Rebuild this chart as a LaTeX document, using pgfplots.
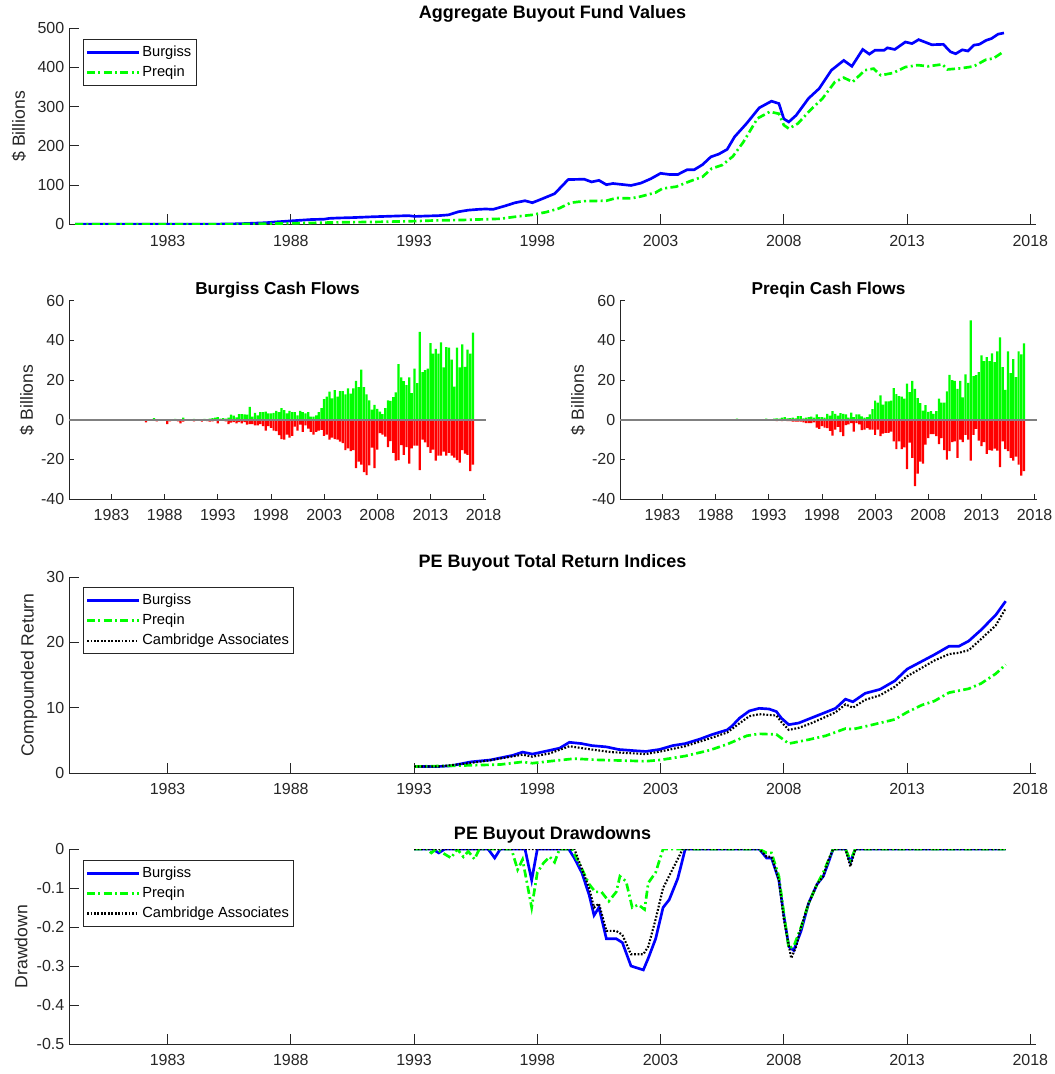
\documentclass[border=0pt]{standalone}
\usepackage{fontspec}
\setmainfont{Liberation Sans}
\usepackage{pgfplots}
\pgfplotsset{compat=1.18}
\definecolor{axgray}{RGB}{38,38,38}
\definecolor{mblue}{RGB}{0,0,255}
\definecolor{mgreen}{RGB}{0,255,0}
\definecolor{mred}{RGB}{255,0,0}
\definecolor{zgray}{RGB}{128,128,128}
\pgfplotsset{
 mstyle/.style={
  scale only axis,
  axis x line=bottom, axis y line=left,
  axis line style={-, draw=axgray, line width=0.6pt},
  tick align=inside,
  major tick length=7.5pt,
  tick style={draw=axgray, line width=0.6pt},
  ticklabel style={font=\fontsize{12}{14}\selectfont, text=axgray},
  xticklabel style={yshift=-4.5pt},
  /pgf/number format/assume math mode=true,
  xmin=1979, xmax=2018.23,
  xtick={1983,1988,1993,1998,2003,2008,2013,2018},
  xticklabels={1983,1988,1993,1998,2003,2008,2013,2018},
  title style={font=\fontsize{13.5}{16}\selectfont\bfseries, anchor=base, at={(0.5,1)}, yshift=1.25pt},
  label style={font=\fontsize{13.2}{15}\selectfont, text=axgray},
  legend cell align=left,
  legend style={draw=axgray, line width=0.5pt, fill=white, font=\fontsize{11}{13}\selectfont, text=black,
    inner xsep=2pt, inner ysep=2.2pt, row sep=0pt,
    nodes={inner sep=1.6pt, text height=8.9pt, text depth=3pt}},
  legend image code/.code={\draw[##1] (0pt,0pt) -- (38.8pt,0pt);},
 },
 bl/.style={draw=mblue, line width=2pt},
 gr/.style={draw=mgreen, line width=2pt, dash pattern=on 6pt off 2.5pt on 1.5pt off 2.5pt},
 bk/.style={draw=black, line width=1.6pt, dash pattern=on 1.3pt off 1.3pt},
 pbar/.style={ybar, bar width=0.21, bar shift=0pt, fill=mgreen, draw=none},
 nbar/.style={ybar, bar width=0.21, bar shift=0pt, fill=mred, draw=none},
}
\begin{document}
\begin{tikzpicture}
\useasboundingbox (0pt,0pt) rectangle (790.5pt,-805.5pt);
% ---------------- Panel 1
\begin{axis}[mstyle, at={(51.75pt,-168.2pt)}, anchor=south west,
  width=725.25pt, height=147pt,
  ymin=0, ymax=500, ytick={0,100,200,300,400,500},
  yticklabels={0,100,200,300,400,500},
  title={Aggregate Buyout Fund Values},
  ylabel={\$ Billions},
  ylabel style={at={(axis description cs:-0.0517,0.5)}, anchor=center},
  legend style={at={(axis description cs:0.0143,0.944)}, anchor=north west}]
\addplot[bl] coordinates {(1979.25,0) (1980,0) (1981,0) (1982,0) (1983,0) (1984,0) (1985,0.3) (1985.66,1) (1986,1.5) (1986.6,3) (1987,4) (1987.4,6) (1988.1,9) (1988.8,12) (1989.35,13) (1989.56,15) (1989.9,16) (1990.5,17) (1991.27,19) (1992,20.5) (1992.77,22) (1993.04,20) (1993.45,21) (1994,22) (1994.4,24) (1994.8,32) (1995.2,36) (1995.6,38) (1995.9,39) (1996.2,38) (1996.7,47) (1997.1,55) (1997.5,60) (1997.8,55) (1998.2,65) (1998.7,78) (1998.9,91) (1999.25,114) (1999.9,115) (2000.2,108) (2000.5,112) (2000.8,101) (2001.07,104) (2001.8,99) (2002.2,105) (2002.6,116) (2003.0,130) (2003.36,127) (2003.7,127) (2004.07,139) (2004.36,139) (2004.7,152) (2005.04,172) (2005.36,179) (2005.7,191) (2006.0,223) (2006.5,258) (2007.0,297) (2007.5,314) (2007.8,308) (2008.0,269) (2008.2,261) (2008.5,278) (2009.0,321) (2009.43,346) (2009.93,393) (2010.43,418) (2010.76,403) (2011.2,446) (2011.47,434) (2011.7,444) (2012.07,444) (2012.2,450) (2012.5,446) (2012.93,465) (2013.2,461) (2013.47,471) (2014.0,458) (2014.47,459) (2014.76,440) (2014.97,435) (2015.24,445) (2015.47,442) (2015.71,457) (2015.93,459) (2016.2,469) (2016.43,474) (2016.69,485) (2016.93,488)};
\addlegendentry{Burgiss}
\addplot[gr] coordinates {(1979.25,0) (1980,0) (1981,0) (1982,0) (1983,0) (1984,0) (1985,0) (1986,0.5) (1987.5,2) (1988.5,3) (1990,5) (1991.5,6) (1993,8) (1994,10) (1995,11) (1996,13) (1996.5,14) (1997.2,20) (1997.5,22) (1997.8,24) (1998.36,31) (1998.86,40) (1999.36,55) (1999.9,59) (2000.8,60) (2001.2,67) (2001.8,66) (2002.2,71) (2002.8,81) (2003.07,91) (2003.64,96) (2004.2,110) (2004.7,121) (2005.07,142) (2005.5,151) (2005.93,173) (2006.36,210) (2006.93,270) (2007.43,287) (2007.8,282) (2008.0,253) (2008.2,244) (2008.57,257) (2009.07,291) (2009.57,321) (2010.07,363) (2010.43,374) (2010.79,363) (2011.29,393) (2011.64,397) (2011.93,380) (2012.43,386) (2012.93,401) (2013.43,406) (2013.86,403) (2014.43,408) (2014.64,395) (2015.21,398) (2015.71,403) (2016.2,420) (2016.5,423) (2016.93,441)};
\addlegendentry{Preqin}
\end{axis}
% ---------------- Panel 2L
\begin{axis}[mstyle, at={(51.75pt,-374.25pt)}, anchor=south west,
  width=312.75pt, height=148.7pt, major tick length=4pt,
  ymin=-40, ymax=60, ytick={-40,-20,0,20,40,60},
  yticklabels={-40,-20,0,20,40,60},
  title={Burgiss Cash Flows}, title style={yshift=-2.25pt, font=\fontsize{12.9}{15}\selectfont\bfseries},
  ylabel={\$ Billions},
  ylabel style={at={(axis description cs:-0.1007,0.5)}, anchor=center}]
\addplot[pbar] coordinates {(1985.5,0.2) (1986,0.3) (1986.5,0.2) (1987,0.8) (1987.5,0.3) (1988,0.3) (1988.5,0.2) (1989,0.4) (1989.5,0.3) (1989.75,1.0) (1990.25,0.3) (1990.75,0.4) (1991.25,0.3) (1991.75,0.4) (1992.25,0.5) (1992.5,0.8) (1992.75,1.0) (1993,1.3) (1993.25,0.5)
(1993.5,0.8) (1993.75,0.6) (1994,1.0) (1994.25,2.5) (1994.5,2.0) (1994.75,1.2) (1995,2.8) (1995.25,2.8) (1995.5,2.7) (1995.75,2.5) (1996,6.5) (1996.25,1.5) (1996.5,3.5) (1996.75,2.2) (1997,3.8) (1997.25,3.8) (1997.5,4.1) (1997.75,3.2) (1998,3.2) (1998.25,3.5) (1998.5,4.5) (1998.75,3.8) (1999,5.8) (1999.25,4.8) (1999.5,3.2) (1999.75,4.5) (2000,3.8) (2000.25,3.8) (2000.5,2.2) (2000.75,4.5) (2001,3.8) (2001.25,3.2) (2001.5,3.8) (2001.75,1.5) (2002,1.5) (2002.25,2.2) (2002.5,3.8) (2002.75,5.8) (2003,10.4) (2003.25,11.6) (2003.5,14.1) (2003.75,10.8) (2004,14.9) (2004.25,11.6) (2004.5,14.4) (2004.75,14.4) (2005,12.8) (2005.25,15.8) (2005.5,13.1) (2005.75,15.8) (2006,19.6) (2006.25,16.4) (2006.5,25.2) (2006.75,16.4) (2007,12.8) (2007.25,9.8) (2007.5,5.1) (2007.75,7.5) (2008,5.5) (2008.25,4.1) (2008.5,2.8) (2008.75,5.8) (2009,9.8) (2009.25,9.5) (2009.5,11.4) (2009.75,13.8) (2010,28.0) (2010.25,21.4) (2010.5,19.4) (2010.75,17.4) (2011,21.4) (2011.25,13.4) (2011.5,25.7) (2011.75,18.4) (2012,44.3) (2012.25,24.0) (2012.5,25.0) (2012.75,25.7) (2013,38.6) (2013.25,33.3) (2013.5,35.7) (2013.75,33.3) (2014,39.0) (2014.25,26.4) (2014.5,36.6) (2014.75,36.3) (2015,30.3) (2015.25,16.7) (2015.5,36.3) (2015.75,26.4) (2016,38.0) (2016.25,26.7) (2016.5,35.3) (2016.75,33.3) (2017,43.9)};
\addplot[nbar] coordinates {(1985.5,-0.3) (1985.75,-0.5) (1986,-0.3) (1986.25,-1.3) (1986.5,-0.4) (1986.75,-0.6) (1987,-0.3) (1987.25,-0.8) (1987.5,-0.5) (1987.75,-0.3) (1988,-0.4) (1988.25,-2.2) (1988.5,-0.8) (1988.75,-0.4) (1989,-0.3) (1989.25,-0.8) (1989.5,-1.8) (1989.75,-1.0) (1990,-0.4) (1990.25,-0.6) (1990.5,-0.3) (1990.75,-0.8) (1991,-0.4) (1991.25,-0.6) (1991.5,-1.0) (1991.75,-0.5) (1992,-0.7) (1992.25,-1.0) (1992.5,-0.8) (1992.75,-0.5) (1993,-1.8) (1993.25,-0.6)
(1993.5,-0.5) (1993.75,-0.8) (1994,-2.2) (1994.25,-1.5) (1994.5,-1.2) (1994.75,-1.8) (1995,-1.2) (1995.25,-1.8) (1995.5,-1.2) (1995.75,-2.5) (1996,-2.2) (1996.25,-2.2) (1996.5,-2.8) (1996.75,-2.8) (1997,-2.2) (1997.25,-3.2) (1997.5,-5.5) (1997.75,-3.2) (1998,-4.1) (1998.25,-5.5) (1998.5,-5.8) (1998.75,-7.8) (1999,-9.8) (1999.25,-10.1) (1999.5,-7.5) (1999.75,-9.1) (2000,-8.1) (2000.25,-3.5) (2000.5,-5.5) (2000.75,-2.5) (2001,-6.1) (2001.25,-2.8) (2001.5,-4.5) (2001.75,-6.1) (2002,-7.5) (2002.25,-6.1) (2002.5,-5.5) (2002.75,-5.1) (2003,-8.1) (2003.25,-7.5) (2003.5,-10.1) (2003.75,-9.1) (2004,-9.8) (2004.25,-10.1) (2004.5,-11.1) (2004.75,-11.8) (2005,-15.4) (2005.25,-14.4) (2005.5,-15.8) (2005.75,-15.4) (2006,-24.4) (2006.25,-21.1) (2006.5,-22.7) (2006.75,-26.4) (2007,-28.0) (2007.25,-23.1) (2007.5,-14.1) (2007.75,-24.4) (2008,-15.1) (2008.25,-6.8) (2008.5,-7.5) (2008.75,-8.5) (2009,-13.8) (2009.25,-10.8) (2009.5,-16.7) (2009.75,-20.7) (2010,-20.4) (2010.25,-12.8) (2010.5,-17.7) (2010.75,-13.8) (2011,-22.1) (2011.25,-14.4) (2011.5,-13.1) (2011.75,-13.1) (2012,-25.4) (2012.25,-10.1) (2012.5,-11.4) (2012.75,-13.8) (2013,-16.7) (2013.25,-15.1) (2013.5,-20.7) (2013.75,-18.1) (2014,-18.1) (2014.25,-16.1) (2014.5,-18.1) (2014.75,-16.7) (2015,-18.1) (2015.25,-19.1) (2015.5,-20.4) (2015.75,-21.7) (2016,-15.4) (2016.25,-17.1) (2016.5,-17.7) (2016.75,-26.0) (2017,-22.7)};
\addplot[zgray, line width=1.3pt] coordinates {(1979,0) (2018.23,0)};
\end{axis}
% ---------------- Panel 2R
\begin{axis}[mstyle, at={(465pt,-374.25pt)}, anchor=south west,
  width=312.75pt, height=148.7pt, major tick length=4pt,
  ymin=-40, ymax=60, ytick={-40,-20,0,20,40,60},
  yticklabels={-40,-20,0,20,40,60},
  title={Preqin Cash Flows}, title style={yshift=-2.25pt, font=\fontsize{12.9}{15}\selectfont\bfseries},
  ylabel={\$ Billions},
  ylabel style={at={(axis description cs:-0.1007,0.5)}, anchor=center}]
\addplot[pbar] coordinates {(1990,0.6) (1991.5,0.2) (1992.75,0.5) (1993.25,0.3)
(1993.5,0.5) (1993.75,0.7) (1994,0.5) (1994.25,1.0) (1994.5,1.3) (1994.75,0.7) (1995,0.8) (1995.25,1.0) (1995.5,0.7) (1995.75,1.8) (1996,1.8) (1996.25,0.7) (1996.5,1.0) (1996.75,1.3) (1997,1.5) (1997.25,1.0) (1997.5,2.7) (1997.75,1.3) (1998,1.3) (1998.25,1.0) (1998.5,3.0) (1998.75,2.0) (1999,4.3) (1999.25,3.0) (1999.5,2.0) (1999.75,3.3) (2000,3.0) (2000.25,2.7) (2000.5,1.0) (2000.75,3.6) (2001,1.3) (2001.25,2.7) (2001.5,2.7) (2001.75,1.7) (2002,1.0) (2002.25,1.3) (2002.5,2.7) (2002.75,5.3) (2003,9.6) (2003.25,8.6) (2003.5,12.3) (2003.75,7.6) (2004,9.3) (2004.25,9.3) (2004.5,9.6) (2004.75,15.9) (2005,12.9) (2005.25,11.9) (2005.5,11.6) (2005.75,10.6) (2006,18.2) (2006.25,13.9) (2006.5,19.6) (2006.75,15.6) (2007,10.9) (2007.25,8.3) (2007.5,4.6) (2007.75,7.3) (2008,4.0) (2008.25,4.3) (2008.5,3.0) (2008.75,4.3) (2009,10.6) (2009.25,8.6) (2009.5,8.6) (2009.75,14.3) (2010,22.6) (2010.25,19.9) (2010.5,19.6) (2010.75,15.6) (2011,19.6) (2011.25,11.3) (2011.5,22.9) (2011.75,18.6) (2012,50.1) (2012.25,22) (2012.5,22.5) (2012.75,24) (2013,32.5) (2013.25,29.5) (2013.5,31.5) (2013.75,29.5) (2014,33.5) (2014.25,29) (2014.5,34.5) (2014.75,41.5) (2015,26.5) (2015.25,15) (2015.5,34.5) (2015.75,23.5) (2016,30.5) (2016.25,21.5) (2016.5,34.5) (2016.75,33) (2017,38.5)};
\addplot[nbar] coordinates {(1980,-0.2) (1981,-0.2) (1982,-0.3) (1983,-0.2) (1984,-0.3) (1985,-0.3) (1985.5,-0.4) (1986,-0.3) (1986.5,-0.6) (1987,-0.3) (1987.5,-0.4) (1988,-0.4) (1988.5,-0.3) (1989,-0.4) (1989.5,-0.3) (1990,-0.5) (1990.5,-0.3) (1991,-0.4) (1991.5,-0.3) (1992,-0.4) (1992.5,-0.3) (1993,-0.4) (1993.25,-0.3)
(1993.5,-0.3) (1993.75,-0.7) (1994,-0.3) (1994.25,-0.7) (1994.5,-0.3) (1994.75,-0.7) (1995,-0.7) (1995.25,-1.0) (1995.5,-1.0) (1995.75,-1.0) (1996,-1.0) (1996.25,-1.3) (1996.5,-1.7) (1996.75,-1.7) (1997,-1.7) (1997.25,-1.3) (1997.5,-4.0) (1997.75,-4.6) (1998,-3.3) (1998.25,-4.0) (1998.5,-4.3) (1998.75,-5.6) (1999,-8.0) (1999.25,-5.0) (1999.5,-3.6) (1999.75,-6.3) (2000,-8.3) (2000.25,-2.7) (2000.5,-2.3) (2000.75,-1.7) (2001,-6.0) (2001.25,-1.7) (2001.5,-2.3) (2001.75,-5.3) (2002,-5.0) (2002.25,-4.3) (2002.5,-5.0) (2002.75,-5.0) (2003,-7.6) (2003.25,-5.0) (2003.5,-8.3) (2003.75,-7.0) (2004,-6.6) (2004.25,-6.6) (2004.5,-6.0) (2004.75,-10.9) (2005,-14.9) (2005.25,-10.9) (2005.5,-14.9) (2005.75,-13.9) (2006,-24.9) (2006.25,-11.6) (2006.5,-19.2) (2006.75,-33.5) (2007,-27.2) (2007.25,-21.2) (2007.5,-22.2) (2007.75,-12.6) (2008,-9.3) (2008.25,-7.3) (2008.5,-7.3) (2008.75,-8.3) (2009,-12.3) (2009.25,-9.3) (2009.5,-15.3) (2009.75,-20.2) (2010,-15.9) (2010.25,-11.3) (2010.5,-10.9) (2010.75,-19.2) (2011,-10.0) (2011.25,-11.3) (2011.5,-7.6) (2011.75,-10.0) (2012,-20.6) (2012.25,-7.6) (2012.5,-4.6) (2012.75,-10.6) (2013,-13.3) (2013.25,-11.3) (2013.5,-17.2) (2013.75,-15.3) (2014,-15.6) (2014.25,-14.6) (2014.5,-15.6) (2014.75,-23.9) (2015,-10.9) (2015.25,-14.9) (2015.5,-15.9) (2015.75,-19.2) (2016,-20.6) (2016.25,-18.6) (2016.5,-22.6) (2016.75,-28.2) (2017,-25.9)};
\addplot[zgray, line width=1.3pt] coordinates {(1979,0) (2018.23,0)};
\end{axis}
% ---------------- Panel 3
\begin{axis}[mstyle, at={(51.75pt,-579.75pt)}, anchor=south west,
  width=725.25pt, height=147pt,
  ymin=0, ymax=30, ytick={0,10,20,30}, yticklabels={0,10,20,30},
  title={PE Buyout Total Return Indices},
  ylabel={Compounded Return},
  ylabel style={at={(axis description cs:-0.0414,0.5)}, anchor=center},
  legend style={at={(axis description cs:0.0142,0.949)}, anchor=north west}]
\addplot[bl] coordinates {(1993,1.0) (1994,1.0) (1994.5,1.1) (1995.3,1.7) (1996.1,2.0) (1997,2.7) (1997.4,3.2) (1997.8,2.9) (1998.3,3.3) (1998.9,3.8) (1999.3,4.7) (1999.8,4.5) (2000.2,4.2) (2000.8,4.0) (2001.3,3.6) (2002,3.4) (2002.4,3.3) (2002.95,3.6) (2003.5,4.2) (2004,4.5) (2004.6,5.2) (2005.1,5.9) (2005.7,6.6) (2005.9,7.2) (2006.2,8.4) (2006.6,9.5) (2007,9.9) (2007.4,9.8) (2007.7,9.4) (2007.9,8.4) (2008.2,7.4) (2008.6,7.65) (2009.1,8.4) (2009.7,9.3) (2010.1,9.9) (2010.5,11.3) (2010.8,10.9) (2011.3,12.2) (2011.9,12.8) (2012.5,14.1) (2013,15.9) (2013.6,17.1) (2014.1,18.1) (2014.7,19.4) (2015.1,19.4) (2015.5,20.2) (2016,21.9) (2016.6,24.2) (2017,26.3)};
\addlegendentry{Burgiss}
\addplot[gr] coordinates {(1993,1.0) (1994.5,1.1) (1995.5,1.2) (1996.5,1.3) (1997.4,1.7) (1997.8,1.5) (1998.5,1.8) (1999.5,2.2) (2000.5,2.0) (2001.5,1.9) (2002.4,1.8) (2003,2.0) (2004,2.6) (2005,3.5) (2005.7,4.4) (2006.5,5.7) (2007,6.0) (2007.7,5.9) (2008.2,4.5) (2009,5.1) (2009.7,5.7) (2010.5,6.8) (2010.8,6.7) (2011.5,7.3) (2012.5,8.2) (2013,9.3) (2013.6,10.4) (2014.1,11.0) (2014.7,12.3) (2015.5,12.9) (2016,13.7) (2016.6,15.2) (2017,16.6)};
\addlegendentry{Preqin}
\addplot[bk] coordinates {(1993,1.0) (1994,1.0) (1995,1.4) (1996,1.9) (1997.4,2.8) (1997.8,2.5) (1998.5,3.0) (1999.3,4.1) (2000,3.7) (2001,3.2) (2002.4,2.9) (2003,3.3) (2004,4.1) (2005,5.3) (2005.7,6.2) (2006.2,7.6) (2006.6,8.7) (2007,9.0) (2007.7,8.8) (2007.9,7.8) (2008.2,6.6) (2008.6,6.9) (2009.1,7.6) (2009.7,8.6) (2010.1,9.3) (2010.5,10.5) (2010.8,10.0) (2011.3,11.2) (2011.9,11.9) (2012.5,13.2) (2013,14.8) (2013.6,16.1) (2014.1,17.2) (2014.7,18.2) (2015.1,18.4) (2015.5,18.8) (2016,20.5) (2016.6,22.6) (2017,25.2)};
\addlegendentry{Cambridge Associates}
\end{axis}
% ---------------- Panel 4
\begin{axis}[mstyle, at={(51.75pt,-783pt)}, anchor=south west,
  width=725.25pt, height=146.25pt,
  ymin=-0.5, ymax=0, ytick={-0.5,-0.4,-0.3,-0.2,-0.1,0},
  yticklabels={-0.5,-0.4,-0.3,-0.2,-0.1,0},
  title={PE Buyout Drawdowns},
  ylabel={Drawdown},
  ylabel style={at={(axis description cs:-0.0496,0.5)}, anchor=center},
  legend style={at={(axis description cs:0.0142,0.944)}, anchor=north west}]
\addplot[bl] coordinates {(1993,0) (1993.75,0) (1994,-0.01) (1994.25,0) (1996,0) (1996.27,-0.023) (1996.5,0) (1997.5,0) (1997.77,-0.08) (1998,0) (1999.27,0) (1999.5,-0.023) (1999.8,-0.06) (2000.1,-0.117) (2000.3,-0.17) (2000.5,-0.15) (2000.8,-0.23) (2001.2,-0.23) (2001.45,-0.24) (2001.8,-0.30) (2002.3,-0.31) (2002.5,-0.28) (2002.8,-0.23) (2003.1,-0.15) (2003.35,-0.13) (2003.7,-0.075) (2004,0) (2007,0) (2007.3,-0.023) (2007.5,-0.023) (2007.8,-0.08) (2008,-0.17) (2008.2,-0.25) (2008.4,-0.26) (2008.7,-0.21) (2009,-0.14) (2009.35,-0.09) (2009.6,-0.07) (2009.8,-0.036) (2010,0) (2010.5,0) (2010.7,-0.034) (2010.9,0) (2017,0)};
\addlegendentry{Burgiss}
\addplot[gr] coordinates {(1993,0) (1993.5,0) (1993.7,-0.01) (1993.9,0) (1994.5,-0.023) (1994.75,0) (1995,-0.02) (1995.2,-0.006) (1995.45,-0.026) (1995.65,0) (1996.95,0) (1997.2,-0.053) (1997.4,-0.027) (1997.77,-0.15) (1998,-0.06) (1998.25,-0.036) (1998.5,-0.02) (1998.7,-0.034) (1998.9,0) (1999.4,0) (1999.8,-0.05) (2000.1,-0.09) (2000.35,-0.11) (2000.6,-0.11) (2000.9,-0.134) (2001.2,-0.11) (2001.35,-0.07) (2001.6,-0.083) (2001.85,-0.15) (2002.1,-0.143) (2002.35,-0.155) (2002.5,-0.087) (2002.8,-0.06) (2003.1,0) (2007,0) (2007.3,-0.01) (2007.5,-0.01) (2007.8,-0.07) (2008,-0.165) (2008.2,-0.254) (2008.4,-0.25) (2008.7,-0.2) (2009,-0.14) (2009.35,-0.09) (2009.6,-0.06) (2009.8,-0.03) (2010,0) (2010.5,0) (2010.7,-0.03) (2010.9,0) (2017,0)};
\addlegendentry{Preqin}
\addplot[bk] coordinates {(1993,0) (1999.5,0) (1999.8,-0.05) (2000.1,-0.1) (2000.3,-0.15) (2000.5,-0.14) (2000.8,-0.21) (2001.2,-0.21) (2001.45,-0.22) (2001.8,-0.27) (2002.3,-0.27) (2002.5,-0.25) (2002.8,-0.18) (2003.1,-0.10) (2003.5,-0.05) (2003.9,0) (2007,0) (2007.3,-0.02) (2007.5,-0.02) (2007.8,-0.08) (2008,-0.18) (2008.3,-0.28) (2008.5,-0.25) (2008.7,-0.2) (2009,-0.14) (2009.35,-0.09) (2009.6,-0.07) (2009.8,-0.03) (2010,0) (2010.5,0) (2010.7,-0.045) (2010.9,0) (2017,0)};
\addlegendentry{Cambridge Associates}
\end{axis}
\end{tikzpicture}
\end{document}
